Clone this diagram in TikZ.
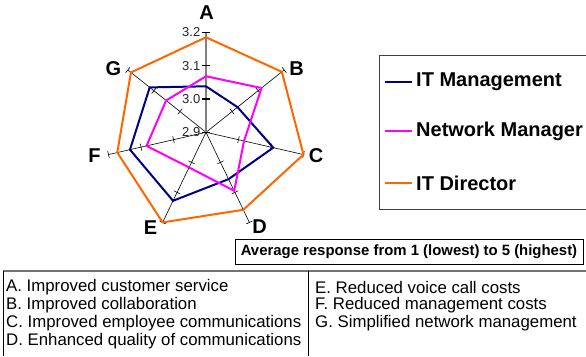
\documentclass[tikz,border=0pt]{standalone}
\usepackage{fontspec}
\setmainfont{Liberation Sans}
\usetikzlibrary{calc}
\definecolor{mgmt}{HTML}{000080}
\definecolor{netmgr}{HTML}{FF00FF}
\definecolor{itdir}{HTML}{FF6600}
\definecolor{valaxis}{HTML}{808080}
\begin{document}
\begin{tikzpicture}[x=1pt,y=-1pt,
  series/.style={line width=2pt,line join=miter},
  spoke/.style={draw=black,line width=0.6pt},
  tickmark/.style={draw=black,line width=0.6pt},
  axislabel/.style={font=\fontsize{20}{24}\selectfont\bfseries,inner sep=0pt},
  vallabel/.style={font=\fontsize{13}{15}\selectfont,inner sep=0pt,anchor=east,text=black!85},
  legendtext/.style={font=\fontsize{20}{24}\selectfont\bfseries,inner sep=0pt,anchor=west},
  itemtext/.style={font=\fontsize{16.8}{18}\selectfont,inner sep=0pt,anchor=west},
]
\useasboundingbox (0,0) rectangle (586,356);

% ---- radar chart: centre is 2.9, outer ring is 3.2 (100pt) ----
\coordinate (O) at (206,132.3);
\def\R{100}
\foreach \lab [count=\k from 0] in {A,B,C,D,E,F,G} {
  \pgfmathsetmacro{\ang}{-90+\k*360/7}
  \coordinate (ax\lab) at ($(O)+({\R*cos(\ang)},{\R*sin(\ang)})$);
}
% spokes B..G with tick marks at 3.0, 3.1, 3.2
\foreach \lab [count=\k from 1] in {B,C,D,E,F,G} {
  \pgfmathsetmacro{\ang}{-90+\k*360/7}
  \draw[spoke] (O) -- (ax\lab);
  \foreach \f in {1,2,3} {
    \coordinate (tk) at ($(O)!\f/3!(ax\lab)$);
    \draw[tickmark] ($(tk)+({3.5*cos(\ang+90)},{3.5*sin(\ang+90)})$) -- ($(tk)+({3.5*cos(\ang-90)},{3.5*sin(\ang-90)})$);
  }
}
% value axis on A
\draw[draw=valaxis,line width=1.6pt] (O) -- (axA);
\foreach \v [count=\i from 0] in {2.9,3.0,3.1,3.2} {
  \coordinate (vt) at ($(O)!\i/3!(axA)$);
  \draw[line width=1.2pt] ($(vt)+(-4.5,0)$) -- ($(vt)+(4,0)$);
  \node[vallabel] (val\i) at ($(vt)+(-5.5,0)$) {\v};
}

% axis letters
\node[axislabel] (labA) at (206.5,13) {A};
\node[axislabel] (labB) at (296.5,68.5) {B};
\node[axislabel] (labC) at (316,155.5) {C};
\node[axislabel] (labD) at (259.5,227) {D};
\node[axislabel] (labE) at (150.5,227.5) {E};
\node[axislabel] (labF) at (94.5,155.5) {F};
\node[axislabel] (labG) at (113.5,68.5) {G};

% data series (values read on the 2.9 -- 3.2 scale)
\newcommand{\radarline}[2]{%
  \draw[series,draw=#1]
  \foreach \v [count=\k from 0] in {#2} {
    \pgfextra{\pgfmathsetmacro{\ang}{-90+\k*360/7}\pgfmathsetmacro{\rr}{(\v-2.9)/0.3*\R}}
    \ifnum\k=0 ($(O)+({\rr*cos(\ang)},{\rr*sin(\ang)})$) \else -- ($(O)+({\rr*cos(\ang)},{\rr*sin(\ang)})$) \fi
  } -- cycle;}
\radarline{mgmt}{3.038,3.021,3.107,3.056,3.128,3.134,3.116}
\radarline{netmgr}{3.068,3.113,3.017,3.095,3.017,3.083,3.053}
\radarline{itdir}{3.185,3.191,3.2,3.158,3.2,3.173,3.188}

% ---- legend ----
\draw[draw=black!75,line width=0.8pt] (586,55) -- (379,55) -- (379,209.3) -- (586,209.3);
\foreach \col/\txt/\yy/\nm in {mgmt/IT Management/82/lgA, netmgr/Network Manager/131/lgB, itdir/IT Director/183/lgC} {
  \coordinate (\nm s) at (385,\yy);
  \coordinate (\nm e) at (412,\yy);
  \draw[draw=\col,line width=2pt] (\nm s) -- (\nm e);
  \node[legendtext] (\nm) at (416,\yy) {\txt};
}

% ---- scale note ----
\node[draw=black,line width=0.8pt,minimum width=348pt,minimum height=25pt,inner sep=0pt,
      font=\fontsize{14.9}{17}\selectfont\bfseries] (note) at (409,251.5)
      {Average response from 1 (lowest) to 5 (highest)};

% ---- key table ----
\draw[draw=black!55,line width=1.6pt] (3,271) -- (586,271);
\draw[line width=0.8pt] (3,271) -- (3,356);
\draw[line width=0.8pt] (308,271) -- (308,356);
\node[itemtext] (kA) at (6,287) {A. Improved customer service};
\node[itemtext] (kB) at (6,305) {B. Improved collaboration};
\node[itemtext] (kC) at (6,323) {C. Improved employee communications};
\node[itemtext] (kD) at (6,341.5) {D. Enhanced quality of communications};
\node[itemtext] (kE) at (315,287) {E. Reduced voice call costs};
\node[itemtext] (kF) at (315,305) {F. Reduced management costs};
\node[itemtext] (kG) at (315,323) {G. Simplified network management};
\end{tikzpicture}
\end{document}
